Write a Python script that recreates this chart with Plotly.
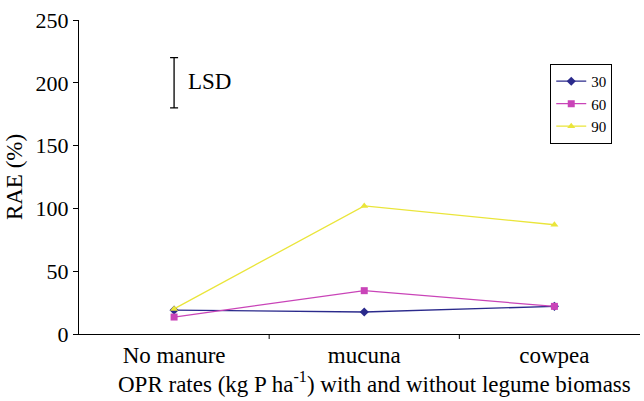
import plotly.graph_objects as go

categories = ["No manure", "mucuna", "cowpea"]
rate_30 = [19, 17.5, 22]
rate_60 = [13.5, 34.5, 22]
rate_90 = [20, 102, 87]
series_names = ["30", "60", "90"]
lsd_center = 200
lsd_half = 20
x_title = "OPR rates (kg P ha<sup>-1</sup>) with and without legume biomass"

colors = ["#2b2a8c", "#c944b8", "#eae53a"]
symbols = ["diamond", "square", "triangle-up"]
FONT = "Times New Roman"

fig = go.Figure()
for name, vals, col, sym in zip(series_names, [rate_30, rate_60, rate_90], colors, symbols):
    fig.add_trace(go.Scatter(
        x=categories, y=vals, name=name, mode="lines+markers",
        line=dict(color=col, width=1.3),
        marker=dict(symbol=sym, size=7, color=col),
    ))

# LSD bar
fig.add_trace(go.Scatter(
    x=[categories[0]], y=[lsd_center], mode="markers", showlegend=False,
    marker=dict(size=0.1, color="rgba(0,0,0,0)"),
    error_y=dict(type="data", array=[lsd_half], color="black", thickness=1.3, width=4),
    hoverinfo="skip",
))
fig.add_annotation(x=categories[0], y=lsd_center + 1, text="LSD", showarrow=False,
                   xanchor="left", xshift=12, font=dict(family=FONT, size=23, color="black"))

# x-axis title (placed as annotation to match reference offset)
fig.add_annotation(x=0.527, y=0, xref="paper", yref="paper", yanchor="top",
                   yshift=-32, text=x_title, showarrow=False,
                   font=dict(family=FONT, size=23, color="black"))

fig.update_layout(
    width=644, height=401,
    margin=dict(l=79, r=4, t=20, b=67),
    paper_bgcolor="white", plot_bgcolor="white",
    font=dict(family=FONT, size=22, color="black"),
    showlegend=True,
    legend=dict(x=0.84, y=0.86, xanchor="left", yanchor="top",
                bordercolor="black", borderwidth=1, bgcolor="white",
                font=dict(family=FONT, size=15), tracegroupgap=0, itemwidth=30),
    xaxis=dict(
        type="category", range=[-0.5, 2.45],
        showline=True, linecolor="black", linewidth=1,
        ticks="", showgrid=False, zeroline=False,
        tickfont=dict(family=FONT, size=23),
    ),
    yaxis=dict(
        range=[0, 250], dtick=50,
        showline=True, linecolor="black", linewidth=1,
        ticks="outside", ticklen=5, tickcolor="black",
        showgrid=False, zeroline=False,
        tickfont=dict(family=FONT, size=22),
        title=dict(text="RAE (%)", font=dict(family=FONT, size=23), standoff=6),
    ),
)

# category boundary ticks on x axis
for b in [0.5, 1.5]:
    fig.add_shape(type="line", xref="x", yref="paper", x0=b, x1=b, y0=0, y1=-0.016,
                  line=dict(color="black", width=1))

fig.write_html("out.html")
